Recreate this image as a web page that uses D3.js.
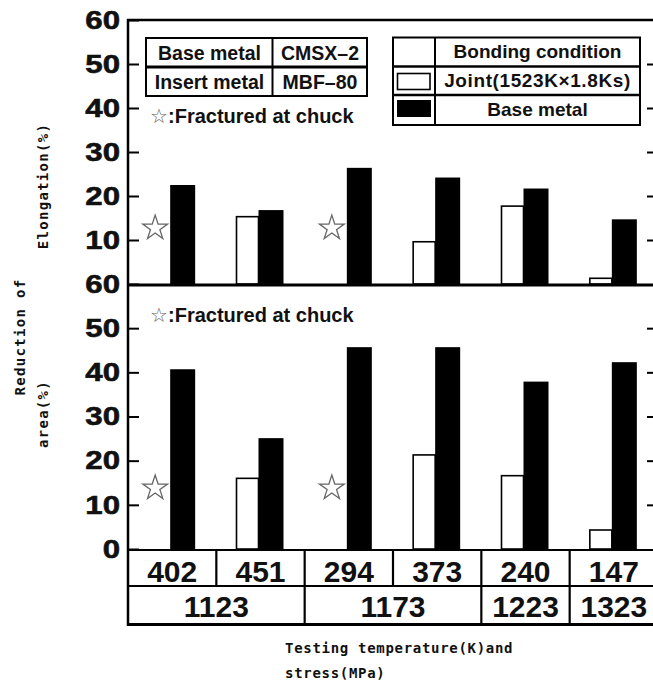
<!DOCTYPE html>
<html>
<head>
<meta charset="utf-8">
<script src="https://cdn.jsdelivr.net/npm/d3@7"></script>
<style>
  body { margin: 0; background: #fff; }
  svg { display: block; }
</style>
</head>
<body>
<div id="chart"></div>
<script>
// stresses (MPa) per test, and temperatures (K) spanning them
const stresses = ["402", "451", "294", "373", "240", "147"];
const temps = ["1123", "1173", "1223", "1323"];
const tempSpan = [2, 2, 1, 1];

// Elongation (%)
const elongJoint = [null, 15.3, null, 9.6, 17.7, 1.3];
const elongBase = [22.5, 16.8, 26.4, 24.2, 21.7, 14.7];
const elongStar = [12.7, null, 12.7, null, null, null];

// Reduction of area (%)
const raJoint = [null, 16.0, null, 21.3, 16.6, 4.3];
const raBase = [40.7, 25.1, 45.7, 45.7, 37.9, 42.3];
const raStar = [13.8, null, 13.8, null, null, null];

const topTicks = [10, 20, 30, 40, 50, 60];
const botTicks = [0, 10, 20, 30, 40, 50, 60];

const width = 653, height = 684;
const left = 128, right = 658;
const sans = "'Liberation Sans', Arial, sans-serif";
const mono = "'DejaVu Sans Mono', monospace";

const svg = d3.select("#chart")
    .append("svg")
    .attr("width", width)
    .attr("height", height);

const x = d3.scaleBand().domain(stresses).range([left, right]);
const yTop = d3.scaleLinear().domain([0, 60]).range([284, 20]);
const yBot = d3.scaleLinear().domain([0, 60]).range([549, 284]);

const panels = [
    { y: yTop, joint: elongJoint, base: elongBase, star: elongStar, ticks: topTicks },
    { y: yBot, joint: raJoint, base: raBase, star: raStar, ticks: botTicks }
];

const cx = i => x(stresses[i]) + x.bandwidth() / 2;
const star = d3.symbol().type(d3.symbolStar).size(190);

panels.forEach(p => {
    const rows = stresses.map((s, i) => ({ i, joint: p.joint[i], base: p.base[i], star: p.star[i] }));

    // Joint bars (white)
    svg.append("g").selectAll("rect")
        .data(rows.filter(d => d.joint != null))
        .join("rect")
        .attr("x", d => cx(d.i) - 24)
        .attr("y", d => p.y(d.joint))
        .attr("width", 22)
        .attr("height", d => p.y(0) - p.y(d.joint))
        .attr("fill", "#fff")
        .attr("stroke", "#000")
        .attr("stroke-width", 1.6);

    // Base metal bars (black)
    svg.append("g").selectAll("rect")
        .data(rows)
        .join("rect")
        .attr("x", d => cx(d.i) - 2)
        .attr("y", d => p.y(d.base))
        .attr("width", 25)
        .attr("height", d => p.y(0) - p.y(d.base))
        .attr("fill", "#000");

    // Fractured at chuck stars
    svg.append("g").selectAll("path")
        .data(rows.filter(d => d.star != null))
        .join("path")
        .attr("transform", d => `translate(${cx(d.i) - 17}, ${p.y(d.star)})`)
        .attr("d", star)
        .attr("fill", "#fff")
        .attr("stroke", "#666")
        .attr("stroke-width", 1.3);

    // Left axis (inward ticks, big labels)
    const ax = svg.append("g")
        .attr("transform", `translate(${left}, 0)`)
        .call(d3.axisLeft(p.y).tickValues(p.ticks).tickSize(-11).tickPadding(8));
    ax.select(".domain").remove();
    ax.selectAll("line").attr("stroke-width", 2);
    ax.selectAll("text")
        .attr("font-family", sans)
        .attr("font-weight", "bold")
        .attr("font-size", 26)
        .attr("fill", "#111")
        .attr("stroke", "#111")
        .attr("stroke-width", 0.6)
        .each(function () {
            const w = this.getComputedTextLength();
            d3.select(this).attr("textLength", w * 1.2).attr("lengthAdjust", "spacingAndGlyphs");
        });

    // Right axis ticks
    const ar = svg.append("g")
        .attr("transform", `translate(${right}, 0)`)
        .call(d3.axisRight(p.y).tickValues(p.ticks.filter(t => t > 0 && t < 60)).tickSize(-11).tickFormat(""));
    ar.select(".domain").remove();
    ar.selectAll("line").attr("stroke-width", 2);
});

// Frame
svg.append("line").attr("x1", left - 1).attr("x2", right).attr("y1", yTop(60)).attr("y2", yTop(60))
    .attr("stroke", "#000").attr("stroke-width", 2.5);
svg.append("line").attr("x1", left - 1).attr("x2", right).attr("y1", yTop(0) + 1).attr("y2", yTop(0) + 1)
    .attr("stroke", "#000").attr("stroke-width", 3);
svg.append("line").attr("x1", left).attr("x2", left).attr("y1", yTop(60) - 1).attr("y2", 626)
    .attr("stroke", "#000").attr("stroke-width", 2.5);

// Table under the chart
const rowY = [yBot(0) + 1, 586, 624.5];
rowY.forEach((y, i) => {
    svg.append("line").attr("x1", left).attr("x2", right).attr("y1", y).attr("y2", y)
        .attr("stroke", "#000").attr("stroke-width", i === 2 ? 3 : 2.2);
});
stresses.slice(1).forEach(s => {
    svg.append("line").attr("x1", x(s)).attr("x2", x(s)).attr("y1", rowY[0]).attr("y2", rowY[1])
        .attr("stroke", "#000").attr("stroke-width", 2.2);
});
svg.append("g").selectAll("text")
    .data(stresses)
    .join("text")
    .attr("x", (d, i) => cx(i))
    .attr("y", 581.5)
    .attr("text-anchor", "middle")
    .attr("font-family", sans)
    .attr("font-weight", "bold")
    .attr("font-size", 30)
    .attr("fill", "#111")
    .text(d => d);

let start = 0;
const tempCells = temps.map((t, i) => {
    const cell = { t, x0: x(stresses[start]), x1: x(stresses[start]) + x.bandwidth() * tempSpan[i] };
    start += tempSpan[i];
    return cell;
});
tempCells.slice(1).forEach(c => {
    svg.append("line").attr("x1", c.x0).attr("x2", c.x0).attr("y1", rowY[1]).attr("y2", rowY[2])
        .attr("stroke", "#000").attr("stroke-width", 2.2);
});
svg.append("g").selectAll("text")
    .data(tempCells)
    .join("text")
    .attr("x", d => (d.x0 + d.x1) / 2)
    .attr("y", 617)
    .attr("text-anchor", "middle")
    .attr("font-family", sans)
    .attr("font-weight", "bold")
    .attr("font-size", 30)
    .attr("fill", "#111")
    .text(d => d.t);

// Material table (top left)
const mat = svg.append("g").attr("font-family", sans).attr("font-weight", "bold").attr("font-size", 19.5).attr("fill", "#111");
mat.append("rect").attr("x", 146).attr("y", 38).attr("width", 221).attr("height", 58)
    .attr("fill", "#fff").attr("stroke", "#000").attr("stroke-width", 2);
mat.append("line").attr("x1", 146).attr("x2", 367).attr("y1", 67).attr("y2", 67).attr("stroke", "#000").attr("stroke-width", 3);
mat.append("line").attr("x1", 272.5).attr("x2", 272.5).attr("y1", 38).attr("y2", 96).attr("stroke", "#000").attr("stroke-width", 2);
[["Base metal", "CMSX\u20132", 59.5], ["Insert metal", "MBF\u201380", 88.5]].forEach(r => {
    mat.append("text").attr("x", 209.5).attr("y", r[2]).attr("text-anchor", "middle").text(r[0]);
    mat.append("text").attr("x", 320).attr("y", r[2]).attr("text-anchor", "middle").text(r[1]);
});

// Legend (top right)
const leg = svg.append("g").attr("font-family", sans).attr("font-weight", "bold").attr("font-size", 19).attr("fill", "#111");
leg.append("rect").attr("x", 393).attr("y", 37.5).attr("width", 247).attr("height", 87.5)
    .attr("fill", "#fff").attr("stroke", "#000").attr("stroke-width", 2);
[66.5, 95].forEach(y => leg.append("line").attr("x1", 393).attr("x2", 640).attr("y1", y).attr("y2", y)
    .attr("stroke", "#000").attr("stroke-width", 2.5));
leg.append("line").attr("x1", 435).attr("x2", 435).attr("y1", 37.5).attr("y2", 125).attr("stroke", "#000").attr("stroke-width", 2);
leg.append("rect").attr("x", 397.5).attr("y", 73.5).attr("width", 32.5).attr("height", 16)
    .attr("fill", "#fff").attr("stroke", "#000").attr("stroke-width", 1.6);
leg.append("rect").attr("x", 397).attr("y", 100).attr("width", 34).attr("height", 17).attr("fill", "#000");
[["Bonding condition", 58, 0], ["Joint(1523K\u00d71.8Ks)", 86.5, 0.6], ["Base metal", 116, 0]].forEach(r => {
    leg.append("text").attr("x", 537.5).attr("y", r[1]).attr("text-anchor", "middle")
        .attr("letter-spacing", r[2]).text(r[0]);
});

// Star notes
[123, 322].forEach(y => {
    const t = svg.append("text")
        .attr("x", 150)
        .attr("y", y)
        .attr("font-family", sans)
        .attr("font-weight", "bold")
        .attr("font-size", 20)
        .attr("fill", "#111");
    t.append("tspan").attr("fill", "#666").attr("font-weight", "normal").text("\u2606");
    t.append("tspan").text(":Fractured at chuck");
});

// Axis titles
const axisTitle = (txt, tx, ty) => svg.append("text")
    .attr("transform", `translate(${tx}, ${ty}) rotate(-90)`)
    .attr("text-anchor", "middle")
    .attr("font-family", mono)
    .attr("font-weight", "bold")
    .attr("font-size", 14)
    .attr("letter-spacing", 1.3)
    .attr("fill", "#111")
    .text(txt);
axisTitle("Elongation(%)", 48, 186);
axisTitle("Reduction of", 25, 337);
axisTitle("area(%)", 48, 414);

svg.append("text")
    .attr("x", 285).attr("y", 653)
    .attr("font-family", mono).attr("font-weight", "bold").attr("font-size", 14).attr("letter-spacing", 0.7)
    .attr("fill", "#111")
    .text("Testing temperature(K)and");
svg.append("text")
    .attr("x", 285).attr("y", 678)
    .attr("font-family", mono).attr("font-weight", "bold").attr("font-size", 14).attr("letter-spacing", 0.7)
    .attr("fill", "#111")
    .text("stress(MPa)");
</script>
</body>
</html>
